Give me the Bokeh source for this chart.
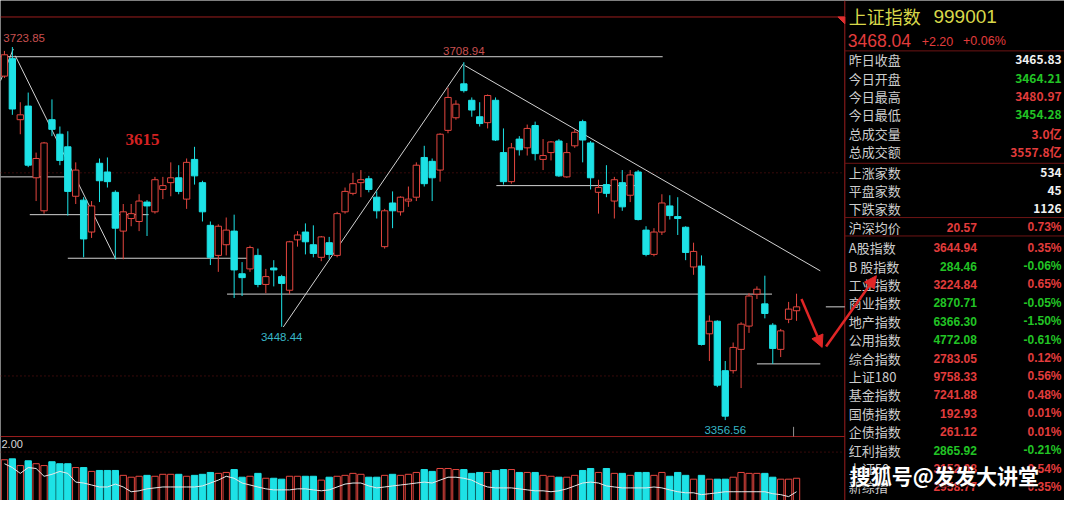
from bokeh.plotting import figure
from bokeh.models import Range1d, ColumnDataSource, Arrow, NormalHead
from bokeh.core.properties import value
from bokeh.embed import file_html
from bokeh.resources import INLINE

# ---------------- data (daily candles, Shanghai composite) ----------------
opens = [3695.2, 3712.4, 3652.3, 3665.7, 3595.1, 3562.6, 3652.3, 3638.0, 3625.6, 3576.9,
         3573.1, 3541.7, 3609.4, 3600.8, 3580.8, 3542.6, 3555.0, 3552.1, 3571.2, 3561.6,
         3583.6, 3590.3, 3595.1, 3574.1, 3613.2, 3590.3, 3548.3, 3518.7, 3529.2, 3542.6,
         3500.6, 3505.4, 3518.7, 3490.1, 3506.3, 3497.8, 3484.4, 3534.0, 3541.7, 3529.2,
         3516.8, 3531.2, 3518.7, 3561.6, 3579.8, 3590.3, 3594.1, 3576.0, 3527.3, 3570.3,
         3561.6, 3572.2, 3576.0, 3615.1, 3611.3, 3602.7, 3641.8, 3654.2, 3687.6, 3671.4,
         3655.2, 3649.4, 3671.4, 3619.9, 3591.3, 3633.2, 3624.6, 3646.6, 3613.2, 3619.9,
         3631.3, 3596.0, 3626.6, 3650.4, 3629.4, 3580.8, 3588.4, 3572.2, 3590.3, 3577.9,
         3600.8, 3543.6, 3519.7, 3541.7, 3567.4, 3556.9, 3546.4, 3507.3, 3508.2, 3441.5,
         3453.9, 3405.2, 3405.2, 3426.2, 3449.1, 3480.6, 3471.0, 3450.0, 3426.2, 3455.8,
         3464.21]
highs = [3720.0, 3723.85, 3669.5, 3679.0, 3619.9, 3630.4, 3672.3, 3645.6, 3640.9, 3610.3,
         3576.0, 3572.2, 3614.1, 3615.1, 3582.7, 3569.3, 3569.3, 3578.9, 3573.1, 3596.0,
         3596.0, 3610.3, 3607.5, 3614.1, 3625.6, 3592.2, 3552.1, 3549.3, 3556.0, 3558.8,
         3512.1, 3528.3, 3525.4, 3505.4, 3514.0, 3499.6, 3533.0, 3542.6, 3550.2, 3548.3,
         3537.8, 3536.9, 3561.6, 3585.5, 3599.8, 3602.7, 3597.0, 3581.7, 3564.5, 3581.7,
         3576.9, 3586.5, 3610.3, 3626.6, 3614.1, 3639.0, 3683.8, 3671.4, 3708.94, 3674.2,
         3669.5, 3677.1, 3674.2, 3643.7, 3629.4, 3636.1, 3647.5, 3650.4, 3633.2, 3631.3,
         3633.2, 3629.4, 3642.8, 3652.3, 3631.3, 3593.2, 3607.5, 3596.0, 3602.7, 3602.7,
         3602.7, 3547.4, 3545.5, 3578.9, 3577.9, 3576.0, 3547.4, 3531.2, 3518.7, 3459.6,
         3454.8, 3414.7, 3432.9, 3452.9, 3481.5, 3488.2, 3498.7, 3452.0, 3446.3, 3472.9,
         3480.97]
lows = [3693.3, 3657.1, 3638.0, 3605.6, 3572.2, 3559.8, 3636.1, 3607.5, 3557.9, 3569.3,
        3516.8, 3535.9, 3571.2, 3585.5, 3514.9, 3514.9, 3547.4, 3542.6, 3537.8, 3559.8,
        3574.1, 3576.9, 3578.9, 3564.5, 3588.4, 3552.1, 3509.2, 3502.5, 3518.7, 3476.8,
        3478.7, 3502.5, 3487.3, 3481.5, 3488.2, 3448.44, 3480.6, 3527.3, 3519.7, 3516.8,
        3513.0, 3514.9, 3516.8, 3559.8, 3577.9, 3576.0, 3580.8, 3555.0, 3525.4, 3545.5,
        3557.9, 3566.5, 3572.2, 3586.5, 3572.2, 3591.3, 3639.0, 3652.3, 3679.0, 3655.2,
        3645.6, 3643.7, 3631.3, 3588.4, 3589.3, 3617.0, 3617.0, 3612.2, 3602.7, 3612.2,
        3596.0, 3595.1, 3624.6, 3610.3, 3583.6, 3559.8, 3576.0, 3555.0, 3562.6, 3571.2,
        3553.1, 3517.8, 3517.8, 3538.8, 3554.0, 3538.8, 3514.0, 3499.6, 3430.0, 3414.7,
        3389.0, 3356.56, 3402.4, 3388.1, 3442.4, 3475.8, 3456.7, 3411.9, 3418.6, 3452.0,
        3454.28]
closes = [3716.2, 3662.8, 3657.1, 3607.5, 3614.1, 3629.4, 3642.8, 3612.2, 3581.7, 3602.7,
          3534.9, 3567.4, 3592.2, 3591.3, 3545.5, 3561.6, 3559.8, 3572.2, 3567.4, 3593.2,
          3587.4, 3595.1, 3581.7, 3610.3, 3597.0, 3561.6, 3516.8, 3547.4, 3543.6, 3504.4,
          3496.8, 3526.4, 3490.1, 3497.8, 3504.4, 3491.1, 3532.1, 3538.8, 3532.1, 3520.6,
          3536.9, 3519.7, 3559.8, 3581.7, 3589.3, 3593.2, 3583.6, 3562.6, 3562.6, 3562.6,
          3576.0, 3574.1, 3607.5, 3589.3, 3595.1, 3638.0, 3674.2, 3667.6, 3680.9, 3661.8,
          3648.5, 3676.1, 3632.3, 3591.3, 3624.6, 3622.7, 3643.7, 3618.9, 3617.0, 3630.4,
          3597.0, 3619.9, 3639.9, 3632.3, 3595.1, 3585.5, 3579.8, 3593.2, 3566.5, 3597.9,
          3554.0, 3519.7, 3541.7, 3570.3, 3557.9, 3555.0, 3521.6, 3522.6, 3431.0, 3453.9,
          3390.9, 3360.4, 3428.1, 3451.0, 3478.7, 3485.4, 3461.5, 3427.1, 3444.4, 3465.83,
          3468.04]
volumes = [4.67, 4.75, 4.17, 4.58, 4.33, 4.17, 4.50, 4.33, 4.33, 4.00,
           4.00, 3.67, 3.75, 3.75, 3.75, 3.33, 3.17, 3.25, 3.33, 3.25,
           3.42, 3.42, 3.42, 3.25, 3.33, 3.42, 3.58, 3.50, 3.58, 3.83,
           3.17, 3.25, 3.50, 3.08, 3.08, 3.00, 3.25, 3.25, 3.25, 3.25,
           2.92, 3.17, 3.25, 3.33, 3.50, 3.42, 3.17, 3.17, 3.33, 3.42,
           3.33, 3.42, 3.58, 3.83, 3.67, 3.92, 3.92, 3.83, 3.83, 3.50,
           3.58, 3.58, 3.75, 3.83, 3.83, 3.58, 3.58, 3.58, 3.33, 3.25,
           3.17, 3.17, 3.33, 3.75, 3.92, 3.58, 3.92, 3.50, 3.50, 3.33,
           3.58, 3.58, 3.33, 3.58, 3.25, 3.58, 3.33, 3.00, 3.33, 3.00,
           3.00, 3.00, 3.17, 3.58, 3.50, 3.50, 3.50, 3.17, 3.00, 3.00,
           3.08]
vol_line = [4.33, 4.00, 3.50, 4.00, 3.92, 3.25, 3.42, 3.67, 3.50, 2.75,
            2.67, 2.50, 2.33, 2.33, 2.58, 2.33, 1.92, 2.00, 2.17, 2.25,
            2.33, 2.33, 2.33, 2.33, 2.33, 2.42, 2.67, 2.92, 3.25, 3.08,
            2.67, 2.50, 2.33, 2.17, 2.08, 2.08, 2.08, 2.17, 2.17, 2.08,
            2.00, 2.08, 2.33, 2.58, 2.67, 2.67, 2.42, 2.25, 2.33, 2.42,
            2.50, 2.58, 2.67, 2.75, 2.67, 2.92, 3.17, 3.17, 3.08, 2.92,
            2.58, 2.33, 2.25, 2.25, 2.25, 2.17, 2.08, 2.00, 2.00, 1.92,
            2.00, 2.17, 2.42, 2.67, 2.75, 2.67, 2.42, 2.33, 2.25, 2.25,
            2.25, 2.25, 2.33, 2.25, 2.08, 1.92, 1.83, 1.83, 1.67, 1.75,
            1.83, 1.92, 1.92, 1.92, 1.92, 1.92, 1.92, 1.75, 1.67, 1.50,
            1.92]

# drawn support / resistance levels (price) and their index spans
level_prices = [3714.3, 3596.0, 3558.8, 3515.9, 3480.6, 3587.4, 3411.9, 3468.04]
level_start = [-0.5, -0.5, 3.2, 8.0, 28.1, 62.1, 95.0, 103.7]
level_end = [83.1, 7.8, 18.2, 31.0, 96.9, 80.0, 103.0, 106.1]
# drawn trend lines
trend_x0 = [-0.5, 1.37, 35.2, 58.1]
trend_y0 = [3690.5, 3715.3, 3448.2, 3705.7]
trend_x1 = [1.12, 14.05, 57.96, 103.0]
trend_y1 = [3721.95, 3514.9, 3707.6, 3503.5]
grid_prices = [3600, 3400]

# side panel
title_name = "上证指数"
title_code = "999001"
last_price = "3468.04"
last_change = "+2.20"
last_pct = "+0.06%"
info_labels = ["昨日收盘", "今日开盘", "今日最高", "今日最低", "总成交量", "总成交额",
               "上涨家数", "平盘家数", "下跌家数"]
info_values = ["3465.83", "3464.21", "3480.97", "3454.28", "3.0亿", "3557.8亿",
               "534", "45", "1126"]
idx_labels = ["沪深均价", "A股指数", "B 股指数", "工业指数", "商业指数", "地产指数", "公用指数",
              "综合指数", "上证180", "基金指数", "国债指数", "企债指数", "红利指数", "上证50", "新综指"]
idx_values = ["20.57", "3644.94", "284.46", "3224.84", "2870.71", "6366.30", "4772.08",
              "2783.05", "9758.33", "7241.88", "192.93", "261.12", "2865.92", "3152.08", "2958.77"]
idx_pcts = ["0.73%", "0.35%", "-0.06%", "0.65%", "-0.05%", "-1.50%", "-0.61%",
            "0.12%", "0.56%", "0.48%", "0.01%", "0.01%", "-0.21%", "0.54%", "0.35%"]

# ---------------- styling ----------------
UP = "#e4463f"
DOWN = "#1de2e6"
FRAME = "#9c1e1e"
DARKRED = "#6e1414"
WHITE_LINE = "#d2d2d2"
GREEN = "#22c425"
RED_TXT = "#e23c3c"
LABEL = "#cdcdcd"
CJK = value("Noto Sans CJK SC")
SANS = value("Liberation Sans")

n = len(opens)
idx = list(range(n))
is_up = [c >= o for o, c in zip(opens, closes)]
src = ColumnDataSource(dict(
    x=idx, h=highs, l=lows,
    top=[max(o, c) for o, c in zip(opens, closes)],
    bot=[min(o, c) for o, c in zip(opens, closes)],
    color=[UP if u else DOWN for u in is_up],
    fill=["#000000" if u else DOWN for u in is_up],
    vol=volumes, vma=vol_line,
))

p = figure(width=1064, height=500, output_backend="svg", toolbar_location=None,
           x_range=Range1d(-0.4975, 133.83), y_range=Range1d(3277.39, 3769.65),
           x_axis_location=None, y_axis_location=None,
           background_fill_color="black", border_fill_color="black",
           min_border=0, outline_line_color=None)
p.grid.visible = False
p.extra_y_ranges = {"vol": Range1d(1.1667, 44.1667), "py": Range1d(516, 0)}
p.extra_x_ranges = {"px": Range1d(0, 1080)}

# volume panel
p.vbar(x="x", width=0.8, top="vol", bottom=0, fill_color="fill", line_color="color",
       line_width=1, y_range_name="vol", source=src)
p.line(x="x", y="vma", line_color="#e8e8e8", line_width=1, y_range_name="vol", source=src)
p.segment(x0=[-0.5], y0=[5.33], x1=[106.09], y1=[5.33], line_color=DARKRED,
          line_dash="1 3", y_range_name="vol")

# frame lines (screen layout)
p.segment(x0=[0, 0, 857, 857, 857, 857, 857], y0=[17, 450, 0, 52, 168, 224, 243],
          x1=[857, 857, 857, 1080, 1080, 1080, 1080], y1=[17, 450, 516, 52, 168, 224, 243],
          line_color=[FRAME, FRAME, FRAME, DARKRED, DARKRED, DARKRED, DARKRED],
          line_width=1, x_range_name="px", y_range_name="py")
p.patch(x=[850, 857, 857], y=[17, 17, 24], fill_color="#e03030", line_color="#e03030",
        x_range_name="px", y_range_name="py")
p.segment(x0=[805], y0=[440], x1=[805], y1=[450], line_color="#909090",
          x_range_name="px", y_range_name="py")

# price grid (dotted)
p.segment(x0=[-0.5] * len(grid_prices), y0=grid_prices, x1=[106.09] * len(grid_prices),
          y1=grid_prices, line_color=DARKRED, line_dash="1 3")

# drawn lines
p.segment(x0=level_start, y0=level_prices, x1=level_end, y1=level_prices,
          line_color=WHITE_LINE, line_width=1)
p.segment(x0=trend_x0, y0=trend_y0, x1=trend_x1, y1=trend_y1,
          line_color=WHITE_LINE, line_width=1)

# candles
p.segment(x0="x", y0="h", x1="x", y1="l", line_color="color", line_width=1, source=src)
p.vbar(x="x", width=0.8, top="top", bottom="bot", fill_color="fill", line_color="color",
       line_width=1, source=src)

# extreme labels
i_hi1, i_hi2, i_lo1, i_lo2 = 1, 58, 35, 91
p.text(x=[i_hi1], y=[highs[i_hi1]], text=[f"{highs[i_hi1]:.2f}"], y_offset=-9, x_offset=-9,
       text_color="#c85050", text_font=SANS, text_font_size="11.5px",
       text_align="left", text_baseline="middle")
p.text(x=[i_hi2], y=[highs[i_hi2]], text=[f"{highs[i_hi2]:.2f}"], y_offset=-11,
       text_color="#c85050", text_font=SANS, text_font_size="11.5px",
       text_align="center", text_baseline="middle")
p.text(x=[i_lo1, i_lo2], y=[lows[i_lo1], lows[i_lo2]],
       text=[f"{lows[i_lo1]:.2f}", f"{lows[i_lo2]:.2f}"], y_offset=[10, 10],
       text_color="#38b6c6", text_font=SANS, text_font_size="11.5px",
       text_align="center", text_baseline="middle")
p.text(x=[127], y=[143], text=["3615"], text_color="#d42222",
       text_font=value("Liberation Serif"), text_font_style="bold", text_font_size="17px",
       text_baseline="middle", x_range_name="px", y_range_name="py")
p.text(x=[1], y=[458], text=["2.00"], text_color="#d8d8d8", text_font=SANS,
       text_font_size="11px", text_baseline="middle", x_range_name="px", y_range_name="py")

# red arrows
ARROW = "#e02626"
p.add_layout(Arrow(end=NormalHead(size=12, fill_color=ARROW, line_color=ARROW),
                   x_start=813, y_start=308, x_end=834, y_end=358, line_color=ARROW,
                   line_width=2.5, x_range_name="px", y_range_name="py"))
p.add_layout(Arrow(end=NormalHead(size=12, fill_color=ARROW, line_color=ARROW),
                   x_start=838, y_start=357, x_end=889, y_end=284, line_color=ARROW,
                   line_width=2.5, x_range_name="px", y_range_name="py"))

# ---------------- side panel ----------------
pk = dict(x_range_name="px", y_range_name="py", text_baseline="middle")
p.text(x=[861], y=[16], text=[title_name], text_color="#d8d84a", text_font=CJK,
       text_font_size="18px", **pk)
p.text(x=[947], y=[16], text=[title_code], text_color="#d8d84a", text_font=SANS,
       text_font_size="19px", **pk)
p.text(x=[860], y=[41], text=[last_price], text_color=RED_TXT, text_font=SANS,
       text_font_size="17.5px", **pk)
p.text(x=[935, 977], y=[42, 42], text=[last_change, last_pct], text_color=RED_TXT,
       text_font=SANS, text_font_size="12.5px", **pk)

info_y = [61, 80, 99, 118, 137, 156, 177, 196, 215]
prev_close = float(info_values[0])
info_colors = ["#f2f2f2"]
for v in info_values[1:4]:
    info_colors.append(RED_TXT if float(v) > prev_close else GREEN)
info_colors += [RED_TXT, RED_TXT, "#f2f2f2", "#f2f2f2", "#f2f2f2"]
p.text(x=[861] * len(info_labels), y=info_y, text=info_labels, text_color=LABEL,
       text_font=CJK, text_font_size="13px", **pk)
p.text(x=[1077] * len(info_values), y=info_y, text=info_values, text_color=info_colors,
       text_font=CJK, text_font_style="bold", text_font_size="12px", text_align="right", **pk)

idx_y = [234] + [255 + 19 * k for k in range(len(idx_labels) - 1)]
idx_colors = [GREEN if s.startswith("-") else RED_TXT for s in idx_pcts]
p.text(x=[861] * len(idx_labels), y=idx_y, text=idx_labels, text_color=LABEL,
       text_font=CJK, text_font_size="13px", **pk)
p.text(x=[991] * len(idx_values), y=idx_y, text=idx_values, text_color=idx_colors,
       text_font=SANS, text_font_style="bold", text_font_size="12px", text_align="right", **pk)
p.text(x=[1077] * len(idx_pcts), y=idx_y, text=idx_pcts, text_color=idx_colors,
       text_font=SANS, text_font_style="bold", text_font_size="12px", text_align="right", **pk)

# watermark
p.text(x=[958], y=[491], text=["搜狐号@发发大讲堂"], text_color="#000000", text_alpha=0.6,
       text_font=CJK, text_font_style="bold", text_font_size="21px", text_align="center",
       x_offset=1, y_offset=1, **pk)
p.text(x=[958], y=[490], text=["搜狐号@发发大讲堂"], text_color="#ffffff",
       text_font=CJK, text_font_style="bold", text_font_size="21px", text_align="center", **pk)

open("out.html", "w").write(file_html(p, INLINE))
